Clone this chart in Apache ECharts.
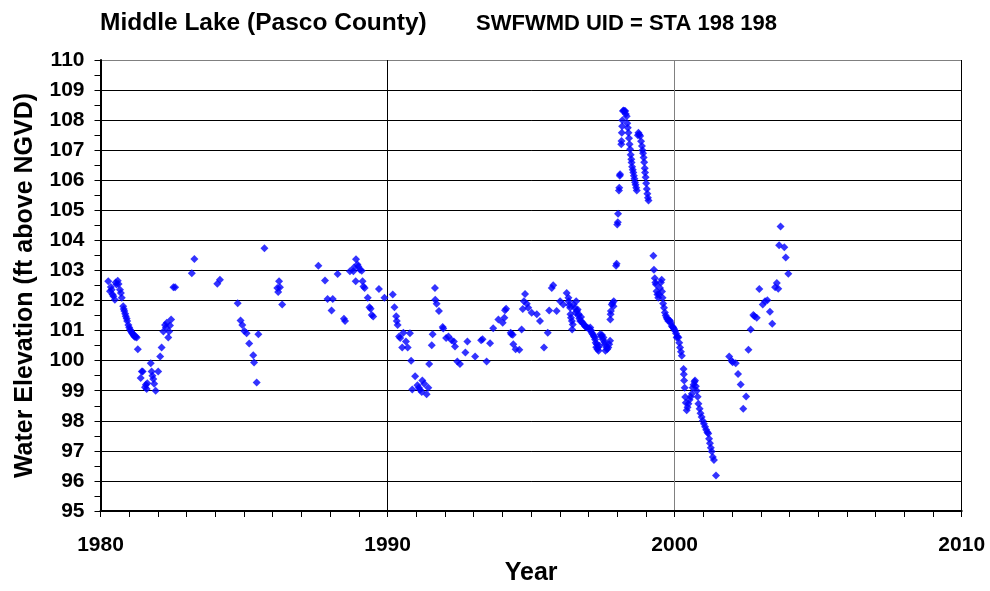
<!DOCTYPE html>
<html>
<head>
<meta charset="utf-8">
<script src="https://cdn.jsdelivr.net/npm/echarts@6/dist/echarts.min.js"></script>
<style>
  html, body { margin: 0; padding: 0; background: #fff; }
  #chart { width: 990px; height: 591px; }
</style>
</head>
<body>
<div id="chart"></div>
<script>
// ---- Data: [decimal year, water elevation (ft above NGVD)] ----
const obs1980s = [
  [1980.27,102.64],[1980.33,102.31],[1980.36,102.45],[1980.39,102.36],[1980.42,102.2],[1980.45,102.14],[1980.5,102.03],[1980.53,102.6],[1980.56,102.53],[1980.6,102.66],[1980.63,102.55],[1980.68,102.36],[1980.71,102.25],[1980.74,102.09],[1980.79,101.81],[1980.81,101.72],[1980.83,101.65],[1980.86,101.56],[1980.88,101.48],[1980.91,101.4],[1980.93,101.32],[1980.97,101.19],[1981.0,101.1],[1981.03,101.04],[1981.06,100.98],[1981.09,100.93],[1981.12,100.9],[1981.14,100.86],[1981.17,100.82],[1981.2,100.79],[1981.23,100.8],[1981.26,100.77],[1981.3,100.38],[1981.4,99.42],[1981.44,99.64],[1981.47,99.64],[1981.55,99.12],[1981.58,99.2],[1981.61,99.06],[1981.63,99.25],[1981.75,99.91],[1981.78,99.64],[1981.81,99.5],[1981.84,99.39],[1981.87,99.23],[1981.92,99.0],[1982.01,99.64],[1982.08,100.14],[1982.13,100.44],[1982.19,100.97],[1982.25,101.19],[1982.28,101.1],[1982.31,101.26],[1982.36,100.77],[1982.39,100.97],[1982.42,101.17],[1982.46,101.37],[1982.54,102.44],[1982.6,102.44],[1983.18,102.91],[1983.27,103.38],[1984.07,102.56],[1984.16,102.69],[1984.78,101.91],[1984.88,101.34],[1984.94,101.19],[1985.01,100.99],[1985.09,100.91],[1985.18,100.57],[1985.32,100.18],[1985.35,99.94],[1985.44,99.27],[1985.5,100.88],[1985.71,103.74],
  [1986.16,102.42],[1986.19,102.28],[1986.22,102.64],[1986.25,102.44],[1986.33,101.87],[1987.59,103.16],[1987.82,102.67],[1987.91,102.05],[1988.05,101.67],[1988.09,102.05],[1988.26,102.88],[1988.48,101.39],[1988.52,101.32],[1988.69,102.97],[1988.81,102.97],[1988.83,103.1],[1988.89,102.64],[1988.9,103.37],[1988.95,103.2],[1988.98,103.13],[1989.04,103.02],[1989.1,102.99],[1989.13,102.64],[1989.16,102.47],[1989.2,102.42],[1989.31,102.09],[1989.37,101.78],[1989.41,101.73],[1989.45,101.52],[1989.5,101.47],[1989.7,102.38],[1989.89,102.09]
];
const obs1990s = [
  [1990.18,102.2],[1990.24,101.78],[1990.3,101.48],[1990.32,101.32],[1990.35,101.19],[1990.4,100.8],[1990.44,100.75],[1990.51,100.44],[1990.55,100.93],[1990.64,100.64],[1990.7,100.44],[1990.78,100.91],[1990.82,100.0],[1990.86,99.04],[1990.96,99.48],[1991.04,99.18],[1991.09,99.1],[1991.13,99.03],[1991.19,98.96],[1991.21,99.34],[1991.28,99.23],[1991.36,98.88],[1991.42,99.1],[1991.45,99.89],[1991.54,100.51],[1991.57,100.88],[1991.65,102.42],[1991.66,102.03],[1991.71,101.89],[1991.79,101.65],[1991.92,101.12],[1991.94,101.07],[1992.04,100.75],[1992.12,100.8],[1992.23,100.68],[1992.31,100.64],[1992.35,100.47],[1992.43,99.97],[1992.52,99.89],[1992.71,100.27],[1992.78,100.64],[1993.05,100.14],[1993.26,100.68],[1993.31,100.71],[1993.45,99.97],[1993.57,100.58],[1993.68,101.08],[1993.86,101.37],[1994.01,101.26],[1994.07,101.43],[1994.09,101.68],[1994.13,101.73],[1994.29,100.93],[1994.31,100.88],[1994.36,100.86],[1994.38,100.55],[1994.46,100.38],[1994.59,100.36],[1994.67,101.04],[1994.71,101.72],[1994.75,101.98],[1994.79,102.22],[1994.85,101.89],[1994.9,101.76],[1995.02,101.59],[1995.2,101.54],[1995.31,101.32],[1995.45,100.44],[1995.58,100.93],[1995.63,101.67],[1995.72,102.42],[1995.77,102.51],[1995.89,101.65],
  [1996.01,101.98],[1996.12,101.87],[1996.24,102.25],[1996.3,102.09],[1996.31,101.98],[1996.33,101.85],[1996.36,101.76],[1996.37,101.54],[1996.39,101.43],[1996.42,101.32],[1996.43,101.04],[1996.45,101.2],[1996.48,101.87],[1996.52,101.75],[1996.55,101.6],[1996.57,101.98],[1996.6,101.65],[1996.62,101.7],[1996.64,101.5],[1996.66,101.54],[1996.68,101.4],[1996.71,101.32],[1996.74,101.45],[1996.76,101.3],[1996.8,101.25],[1996.83,101.21],[1996.87,101.15],[1996.91,101.12],[1996.95,101.1],[1996.99,101.08],[1997.03,101.05],[1997.06,101.1],[1997.09,101.0],[1997.11,100.93],[1997.15,100.88],[1997.18,100.82],[1997.21,100.78],[1997.23,100.7],[1997.25,100.6],[1997.27,100.45],[1997.29,100.55],[1997.31,100.38],[1997.33,100.45],[1997.35,100.33],[1997.38,100.5],[1997.41,100.88],[1997.44,100.8],[1997.47,100.85],[1997.5,100.7],[1997.52,100.77],[1997.55,100.62],[1997.58,100.55],[1997.59,100.33],[1997.62,100.45],[1997.65,100.38],[1997.69,100.44],[1997.72,100.55],[1997.75,100.66],[1997.76,101.37],[1997.77,101.54],[1997.78,101.65],[1997.81,101.87],[1997.84,101.92],[1997.87,101.81],[1997.88,101.98],[1997.96,103.16],[1997.98,103.22],
  [1998.0,104.53],[1998.02,104.6],[1998.03,104.89],[1998.06,105.66],[1998.07,105.75],[1998.09,106.15],[1998.1,106.2],[1998.14,107.2],[1998.15,107.31],[1998.16,107.58],[1998.17,107.8],[1998.18,108.0],[1998.2,108.3],[1998.22,108.32],[1998.25,108.3],[1998.28,108.3],[1998.3,108.2],[1998.33,108.13],[1998.35,107.9],[1998.37,107.75],[1998.39,107.58],[1998.41,107.4],[1998.43,107.2],[1998.45,107.03],[1998.47,106.85],[1998.49,106.7],[1998.5,106.59],[1998.52,106.45],[1998.54,106.35],[1998.56,106.26],[1998.58,106.15],[1998.6,106.05],[1998.62,105.93],[1998.64,105.85],[1998.66,105.75],[1998.68,105.66],[1998.72,107.5],[1998.74,107.58],[1998.77,107.52],[1998.8,107.47],[1998.83,107.3],[1998.86,107.14],[1998.88,107.0],[1998.9,106.9],[1998.92,106.76],[1998.94,106.6],[1998.96,106.4],[1998.97,106.26],[1998.99,106.1],[1999.01,105.9],[1999.03,105.71],[1999.05,105.55],[1999.07,105.42],[1999.09,105.33],
  [1999.26,103.49],[1999.28,103.02],[1999.31,102.74],[1999.33,102.6],[1999.35,102.53],[1999.37,102.31],[1999.4,102.2],[1999.43,102.09],[1999.46,102.2],[1999.49,102.42],[1999.52,102.6],[1999.55,102.69],[1999.56,102.3],[1999.58,102.09],[1999.6,101.9],[1999.63,101.76],[1999.66,101.6],[1999.69,101.5],[1999.72,101.43],[1999.75,101.38],[1999.78,101.32],[1999.81,101.35],[1999.84,101.32],[1999.87,101.25],[1999.9,101.15],[1999.93,101.12],[1999.95,101.1],[1999.98,101.05]
];
const obs2000s = [
  [2000.02,100.99],[2000.05,100.9],[2000.07,100.77],[2000.1,100.8],[2000.13,100.77],[2000.16,100.6],[2000.19,100.44],[2000.22,100.3],[2000.25,100.16],[2000.31,99.72],[2000.32,99.55],[2000.33,99.34],[2000.35,99.1],[2000.37,98.79],[2000.39,98.6],[2000.42,98.35],[2000.45,98.45],[2000.48,98.57],[2000.52,98.7],[2000.56,98.8],[2000.6,98.9],[2000.63,99.1],[2000.66,99.2],[2000.69,99.3],[2000.71,99.34],[2000.74,99.15],[2000.77,99.0],[2000.8,98.8],[2000.83,98.57],[2000.87,98.4],[2000.9,98.25],[2000.94,98.13],[2000.98,98.0],[2001.02,97.9],[2001.06,97.8],[2001.1,97.7],[2001.14,97.62],[2001.17,97.58],[2001.2,97.4],[2001.23,97.25],[2001.26,97.1],[2001.29,96.98],[2001.33,96.8],[2001.37,96.7],[2001.44,96.18],
  [2001.9,100.14],[2001.98,100.0],[2002.02,99.95],[2002.13,99.91],[2002.21,99.56],[2002.3,99.21],[2002.39,98.4],[2002.49,98.81],[2002.57,100.36],[2002.65,101.04],[2002.74,101.52],[2002.78,101.48],[2002.86,101.43],[2002.95,102.38],[2003.07,101.87],[2003.15,101.98],[2003.23,102.01],[2003.32,101.63],[2003.4,101.23],[2003.5,102.44],[2003.56,102.58],[2003.61,102.39],[2003.64,103.84],[2003.69,104.46],[2003.82,103.77],[2003.87,103.43],[2003.96,102.89]
];
const titleMain = 'Middle Lake (Pasco County)';
const titleSub = 'SWFWMD UID = STA 198 198';
const xName = 'Year';
const yName = 'Water Elevation (ft above NGVD)';

const FONT = '"Liberation Sans", Arial, sans-serif';
const chart = echarts.init(document.getElementById('chart'), null, { renderer: 'canvas' });
const ySplitColors = [];
for (let v = 95; v <= 110; v++) ySplitColors.push(v === 110 ? '#808080' : '#000000');

chart.setOption({
  animation: false,
  backgroundColor: '#ffffff',
  title: [
    { text: titleMain, left: 95, top: 6, textStyle: { fontFamily: FONT, fontWeight: 'bold', fontSize: 24.5, color: '#000' } },
    { text: titleSub, left: 471, top: 8, textStyle: { fontFamily: FONT, fontWeight: 'bold', fontSize: 22, color: '#000' } }
  ],
  grid: { left: 100.5, right: 28.3, top: 60, bottom: 76, containLabel: false },
  xAxis: {
    type: 'value', min: 1980, max: 2010, interval: 10,
    name: xName, nameLocation: 'middle', nameGap: 50,
    nameTextStyle: { fontFamily: FONT, fontWeight: 'bold', fontSize: 25, color: '#000' },
    axisLine: { show: true, onZero: false, lineStyle: { color: '#000', width: 2 } },
    axisTick: { show: true, inside: false, length: 6, lineStyle: { color: '#000', width: 1 } },
    minorTick: { show: true, splitNumber: 10, length: 6, lineStyle: { color: '#000', width: 1 } },
    axisLabel: { margin: 24, fontFamily: FONT, fontWeight: 'bold', fontSize: 21, color: '#000', formatter: v => String(v) },
    splitLine: { show: true, lineStyle: { color: ['#000', '#000', '#808080', '#000'], width: 1 } }
  },
  yAxis: {
    type: 'value', min: 95, max: 110, interval: 1,
    name: yName, nameLocation: 'middle', nameGap: 63, nameRotate: 90,
    nameTextStyle: { fontFamily: FONT, fontWeight: 'bold', fontSize: 25, color: '#000' },
    axisLine: { show: true, onZero: false, lineStyle: { color: '#000', width: 2 } },
    axisTick: { show: true, inside: false, length: 6, lineStyle: { color: '#000', width: 1 } },
    minorTick: { show: true, splitNumber: 2, length: 6, lineStyle: { color: '#000', width: 1 } },
    axisLabel: { margin: 16, fontFamily: FONT, fontWeight: 'bold', fontSize: 21, color: '#000', formatter: v => String(v) },
    splitLine: { show: true, lineStyle: { color: ySplitColors, width: 1 } }
  },
  series: [obs1980s, obs1990s, obs2000s].map(d => ({
    type: 'scatter',
    data: d,
    symbol: 'diamond',
    symbolSize: 8,
    itemStyle: { color: '#0000FF' },
    emphasis: { disabled: true }
  }))
});
</script>
</body>
</html>
